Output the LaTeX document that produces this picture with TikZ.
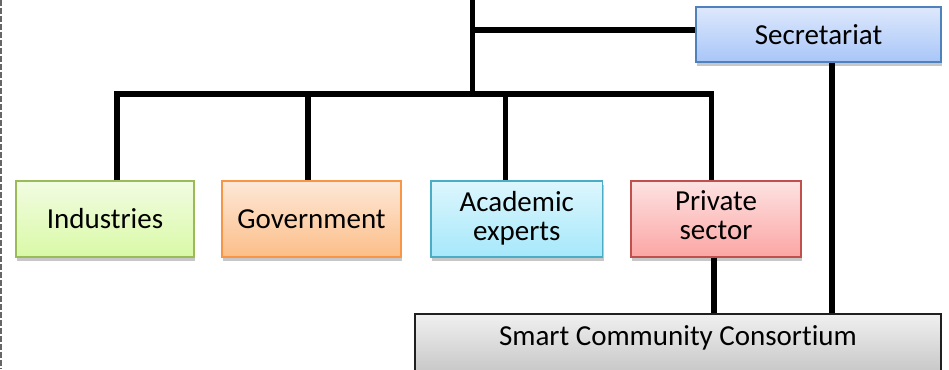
\documentclass[tikz,border=0pt]{standalone}
\usepackage{fontspec}
\setmainfont[Ligatures=NoCommon]{Carlito}
\usetikzlibrary{shadows}
\definecolor{indB}{HTML}{9BBB59}\definecolor{indT}{HTML}{F2FCE2}\definecolor{indL}{HTML}{D9F9A6}
\definecolor{govB}{HTML}{F79646}\definecolor{govT}{HTML}{FDE8D8}\definecolor{govL}{HTML}{FCBE88}
\definecolor{acaB}{HTML}{4BACC6}\definecolor{acaT}{HTML}{DDF6FD}\definecolor{acaL}{HTML}{A6E8FB}
\definecolor{priB}{HTML}{C0504D}\definecolor{priT}{HTML}{FDE2E2}\definecolor{priL}{HTML}{FBA6A4}
\definecolor{secB}{HTML}{4F81BD}\definecolor{secT}{HTML}{DEE8FC}\definecolor{secL}{HTML}{A8C6F8}
\definecolor{conB}{HTML}{202020}\definecolor{conT}{HTML}{F0F0F0}\definecolor{conL}{HTML}{C6C6C6}
\begin{document}
\begin{tikzpicture}[x=1pt,y=-1pt,
  box/.style={draw, line width=1.3pt, rectangle, inner sep=0pt, align=center,
    font=\fontsize{29}{29}\selectfont,
    drop shadow={shadow xshift=1pt, shadow yshift=-4pt, fill=black, opacity=0.22}},
  conn/.style={line width=5.5pt, black, line join=miter}]
\useasboundingbox (0,0) rectangle (949,369);
% left dashed border
\draw[black!60, line width=2pt, dash pattern=on 6pt off 2pt] (1,0) -- (1,369);
% boxes
\node[box, draw=indB, top color=indT, bottom color=indL, minimum width=178pt, minimum height=76pt] (ind) at (105,219) {Industries};
\node[box, draw=govB, top color=govT, bottom color=govL, minimum width=179pt, minimum height=76pt] (gov) at (311.5,219) {Government};
\node[box, draw=acaB, top color=acaT, bottom color=acaL, minimum width=171.5pt, minimum height=76pt, text depth=7pt] (aca) at (516.75,219) {Academic\\experts};
\node[box, draw=priB, top color=priT, bottom color=priL, minimum width=170pt, minimum height=76pt, text depth=7pt] (pri) at (716,219) {Private\\sector};
\node[box, draw=secB, top color=secT, bottom color=secL, minimum width=245pt, minimum height=55pt] (sec) at (818.5,34.5) {Secretariat};
\node[box, draw=conB, top color=conT, bottom color=conL, minimum width=526pt, minimum height=60pt, text height=20pt, text depth=18pt] (con) at (678,344) {Smart Community Consortium};
% connector coordinates
\coordinate (top) at (472.5,0);
\coordinate (tj) at (472.5,30);
\coordinate (bj) at (472.5,94);
\coordinate (b1) at (117,94);
\coordinate (b2) at (308,94);
\coordinate (b3) at (505.5,94);
\coordinate (b4) at (711.5,94);
\coordinate (p1) at (714,0);
\coordinate (s1) at (832,0);
% connectors
\draw[conn] (top) -- (bj);
\draw[conn] (tj) -- (tj -| sec.west);
\draw[conn] (b1 |- ind.north) -- (b1) -- (b4) -- (b4 |- pri.north);
\draw[conn] (b2) -- (b2 |- gov.north);
\draw[conn] (b3) -- (b3 |- aca.north);
\draw[conn] (p1 |- pri.south) -- (p1 |- con.north);
\draw[conn] (s1 |- sec.south) -- (s1 |- con.north);
\end{tikzpicture}
\end{document}
